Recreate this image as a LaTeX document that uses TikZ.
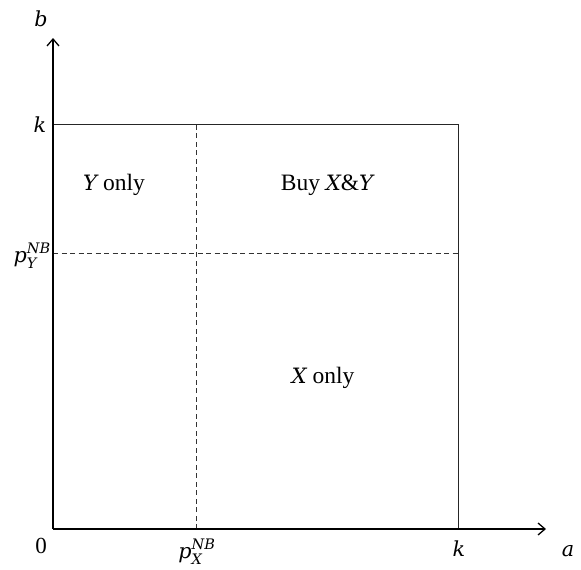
\documentclass[tikz,border=0pt]{standalone}
\usepackage{amsmath}
\usepackage{fontspec}
\setmainfont{Liberation Serif}
\newfontfamily\varfont[Scale=0.9]{DejaVu Serif}
\usetikzlibrary{arrows.meta}
\newcommand{\vv}[1]{\text{\varfont\itshape #1}}
\begin{document}
\begin{tikzpicture}[x=1pt,y=-1pt,
  axis/.style={line width=1.6pt,-{Straight Barb[length=7pt,width=12pt,line width=1.3pt]}},
  boxline/.style={line width=1pt,draw=black!85},
  guide/.style={line width=1pt,draw=black!80,dash pattern=on 5pt off 3.5pt},
  lbl/.style={font=\fontsize{23.5}{28}\selectfont,inner sep=0pt},
  mlbl/.style={font=\fontsize{23}{28}\selectfont,inner sep=0pt}]
\useasboundingbox (0,0) rectangle (581,570);
\coordinate (O) at (53,529);
\coordinate (Ytop) at (53,38);
\coordinate (Xend) at (546,529);
\coordinate (Kx) at (458,529);
\coordinate (Ky) at (53,124);
\coordinate (KK) at (458,124);
\coordinate (PxB) at (196,529);
\coordinate (PxT) at (196,124);
\coordinate (PyL) at (53,253);
\coordinate (PyR) at (458,253);
\draw[boxline] (Ky) -- (KK) -- (Kx);
\draw[guide] (PxB) -- (PxT);
\draw[guide] (PyL) -- (PyR);
\draw[axis] (O) -- (Ytop);
\draw[axis] (O) -- (Xend);
\node[mlbl] (lb) at (41,19) {$\vv{b}$};
\node[mlbl] (lk) at (40,125) {$\vv{k}$};
\node[mlbl,anchor=east] (lpy) at (51,256) {$\vv{p}^{\vv{NB}}_{\vv{Y}}$};
\node[mlbl] (l0) at (41,546) {0};
\node[mlbl] (lpx) at (197,552) {$\vv{p}^{\vv{NB}}_{\vv{X}}$};
\node[mlbl] (lk2) at (459,549) {$\vv{k}$};
\node[mlbl] (la) at (568,551) {$\vv{a}$};
\node[lbl] (ry) at (114,185) {\vv{Y} only};
\node[lbl] (rxy) at (327,185) {Buy \vv{X}\&\vv{Y}};
\node[lbl] (rx) at (323,378) {\vv{X} only};
\end{tikzpicture}
\end{document}
